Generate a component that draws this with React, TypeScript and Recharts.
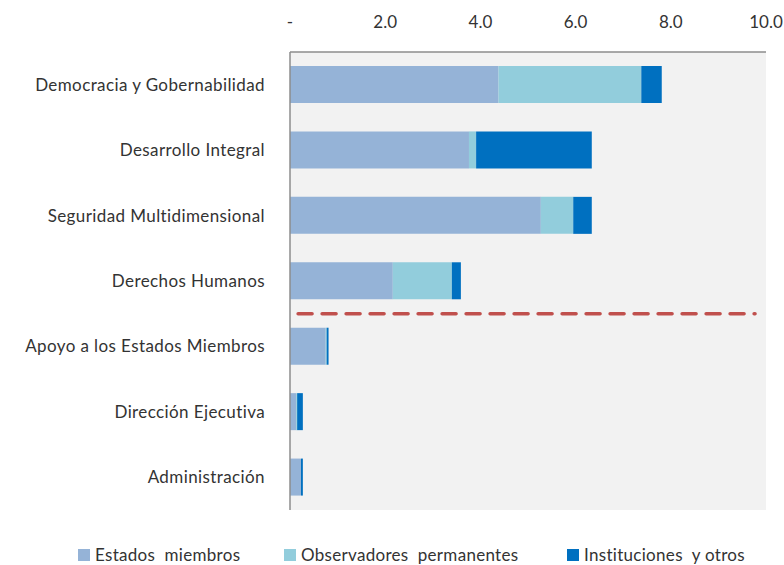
import React from "react"
import { BarChart, Bar, XAxis, YAxis, CartesianGrid, Legend, ReferenceLine } from "recharts"

// Categories (top to bottom)
const areas = [
  "Democracia  y Gobernabilidad",
  "Desarrollo  Integral",
  "Seguridad  Multidimensional",
  "Derechos  Humanos",
  "Apoyo  a los Estados  Miembros",
  "Dirección  Ejecutiva",
  "Administración",
]

// Series values (millions)
const estadosMiembros = [4.38, 3.76, 5.27, 2.16, 0.75, 0.13, 0.23]
const observadores = [3.0, 0.15, 0.68, 1.24, 0.02, 0.02, 0.0]
const instituciones = [0.43, 2.43, 0.39, 0.19, 0.04, 0.12, 0.04]

const xTicks = [0, 2, 4, 6, 8, 10]

// dashed separator between the first four areas and the rest
const separatorAfter = areas[3]
const separatorFrom = 0.17
const separatorTo = 9.77

const seriesNames = ["Estados  miembros", "Observadores  permanentes", "Instituciones  y otros"]
const COLORS = ["#95B3D7", "#92CDDC", "#0070C0"]

const data = areas.map((name, i) => ({
  name,
  estados: estadosMiembros[i],
  observadores: observadores[i],
  instituciones: instituciones[i],
}))

const FONT = "Lato, 'Open Sans', sans-serif"

function LegendBox() {
  const lefts = [78, 284, 567]
  return (
    <div style={{ position: "relative", width: 784, height: 55, fontFamily: FONT, fontSize: 17, color: "#333" }}>
      {seriesNames.map((n, i) => (
        <div
          key={n}
          style={{ position: "absolute", left: lefts[i], top: 34, display: "flex", alignItems: "center", whiteSpace: "pre" }}
        >
          <span style={{ display: "inline-block", width: 12, height: 12, background: COLORS[i], marginRight: 5 }} />
          <span style={{ letterSpacing: 0.3 }}>{n}</span>
        </div>
      ))}
    </div>
  )
}

export default function App() {
  return (
    <div style={{ position: "absolute", left: 0, top: 0 }}>
      <BarChart
        width={784}
        height={565}
        data={data}
        layout="vertical"
        margin={{ top: 0, right: 18, bottom: 0, left: 0 }}
        barSize={37}
      >
        <CartesianGrid fill="#F2F2F2" horizontal={false} vertical={false} />
        <XAxis
          type="number"
          orientation="top"
          domain={[0, 10]}
          ticks={xTicks}
          height={52}
          tickSize={0}
          tickMargin={24}
          axisLine={{ stroke: "#8c8c8c", strokeWidth: 1.5 }}
          tickFormatter={(v: number) => (v === 0 ? "-" : v.toFixed(1))}
          tick={{ fill: "#333", fontSize: 17, fontFamily: FONT }}
        />
        <YAxis
          type="category"
          dataKey="name"
          width={290}
          tickSize={0}
          tickMargin={25}
          axisLine={{ stroke: "#8c8c8c", strokeWidth: 1.5 }}
          tick={{ fill: "#333", fontSize: 17, fontFamily: FONT, letterSpacing: 0.4 }}
        />
        <Bar dataKey="estados" stackId="a" fill={COLORS[0]} isAnimationActive={false} />
        <Bar dataKey="observadores" stackId="a" fill={COLORS[1]} isAnimationActive={false} />
        <Bar dataKey="instituciones" stackId="a" fill={COLORS[2]} isAnimationActive={false} />
        <ReferenceLine
          segment={[
            { x: separatorFrom, y: separatorAfter },
            { x: separatorTo, y: separatorAfter },
          ]}
          position="end"
          stroke="#C0504D"
          strokeWidth={3.5}
          strokeDasharray="14 10"
          strokeLinecap="round"
        />
        <Legend verticalAlign="bottom" content={() => <LegendBox />} />
      </BarChart>
    </div>
  )
}
